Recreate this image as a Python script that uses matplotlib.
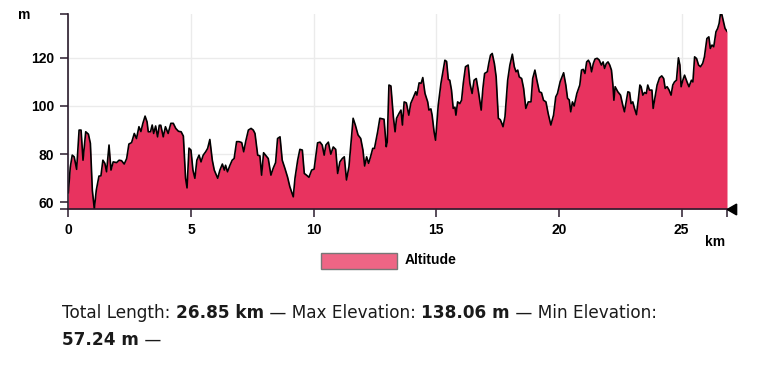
import matplotlib
matplotlib.use("Agg")
import matplotlib.pyplot as plt
from matplotlib.transforms import offset_copy

km = [0.00, 0.08, 0.16, 0.24, 0.34, 0.44, 0.52, 0.60, 0.71, 0.82, 0.90, 0.98, 1.06, 1.14, 1.25, 1.33,
      1.41, 1.49, 1.56, 1.66, 1.74, 1.83, 1.97, 2.07, 2.17, 2.28, 2.38, 2.47, 2.58, 2.69, 2.78, 2.88,
      2.96, 3.04, 3.13, 3.21, 3.26, 3.35, 3.42, 3.48, 3.56, 3.64, 3.71, 3.77, 3.87, 3.96, 4.07, 4.18,
      4.28, 4.38, 4.49, 4.60, 4.69, 4.78, 4.84, 4.92, 5.00, 5.08, 5.16, 5.24, 5.33, 5.41, 5.50, 5.60,
      5.68, 5.77, 5.87, 5.95, 6.09, 6.18, 6.28, 6.36, 6.41, 6.49, 6.59, 6.68, 6.76, 6.86, 6.96, 7.07,
      7.15, 7.23, 7.34, 7.45, 7.54, 7.61, 7.72, 7.81, 7.88, 7.96, 8.04, 8.15, 8.26, 8.35, 8.45, 8.53,
      8.63, 8.72, 8.83, 8.94, 9.03, 9.17, 9.24, 9.35, 9.44, 9.54, 9.62, 9.71, 9.81, 9.92, 10.02, 10.16,
      10.26, 10.35, 10.43, 10.50, 10.60, 10.70, 10.80, 10.90, 10.98, 11.07, 11.17, 11.25, 11.34, 11.44,
      11.52, 11.61, 11.70, 11.81, 11.92, 12.01, 12.08, 12.16, 12.24, 12.32, 12.41, 12.48, 12.61, 12.70,
      12.79, 12.87, 12.96, 13.00, 13.07, 13.15, 13.25, 13.32, 13.38, 13.48, 13.56, 13.62, 13.69, 13.78,
      13.88, 13.96, 14.05, 14.16, 14.21, 14.30, 14.38, 14.45, 14.54, 14.65, 14.70, 14.78, 14.83, 14.91,
      14.97, 15.08, 15.19, 15.28, 15.35, 15.42, 15.49, 15.55, 15.62, 15.69, 15.76, 15.80, 15.87, 15.96,
      16.03, 16.10, 16.19, 16.30, 16.37, 16.46, 16.54, 16.63, 16.72, 16.83, 16.90, 16.97, 17.08, 17.14,
      17.21, 17.28, 17.37, 17.44, 17.53, 17.61, 17.67, 17.72, 17.80, 17.91, 18.00, 18.10, 18.18, 18.25,
      18.32, 18.38, 18.48, 18.56, 18.65, 18.75, 18.86, 18.93, 19.02, 19.10, 19.20, 19.29, 19.37, 19.47,
      19.56, 19.67, 19.78, 19.87, 19.94, 20.05, 20.19, 20.28, 20.35, 20.42, 20.48, 20.55, 20.62, 20.73,
      20.85, 20.92, 20.99, 21.06, 21.13, 21.20, 21.27, 21.33, 21.40, 21.47, 21.56, 21.64, 21.73, 21.80,
      21.86, 21.93, 22.00, 22.07, 22.14, 22.20, 22.24, 22.29, 22.40, 22.51, 22.60, 22.67, 22.74, 22.81,
      22.88, 22.94, 23.01, 23.08, 23.16, 23.24, 23.30, 23.35, 23.42, 23.49, 23.56, 23.62, 23.69, 23.79,
      23.84, 23.92, 24.00, 24.10, 24.19, 24.27, 24.33, 24.41, 24.49, 24.57, 24.64, 24.71, 24.79, 24.87,
      24.93, 24.98, 25.05, 25.12, 25.22, 25.30, 25.40, 25.46, 25.53, 25.61, 25.69, 25.77, 25.86, 25.93,
      26.03, 26.11, 26.17, 26.24, 26.31, 26.40, 26.47, 26.53, 26.58, 26.64, 26.72, 26.77, 26.85]

altitude = [64.0, 74.5, 79.6, 78.9, 73.7, 90.0, 90.0, 77.5, 89.3, 88.3, 84.5, 65.0, 57.3, 65.0, 70.9, 71.0,
            77.5, 76.2, 72.7, 83.8, 73.4, 76.8, 76.5, 77.5, 77.3, 75.9, 78.2, 84.2, 84.8, 88.6, 86.5, 91.4,
            89.4, 92.8, 95.8, 93.4, 89.3, 89.3, 92.1, 88.6, 91.7, 87.2, 92.0, 92.0, 87.2, 91.4, 88.6, 92.8,
            92.8, 90.7, 89.5, 89.3, 87.5, 70.0, 66.0, 82.5, 81.7, 73.4, 70.0, 77.5, 79.6, 76.8, 79.6, 81.0,
            82.4, 86.1, 77.5, 73.4, 70.0, 73.4, 75.9, 73.4, 75.4, 72.7, 75.4, 77.5, 78.2, 85.2, 85.2, 84.8,
            81.0, 85.2, 90.0, 90.7, 90.0, 88.6, 79.6, 79.3, 71.3, 80.6, 79.6, 78.2, 71.3, 74.1, 76.5, 86.5,
            87.2, 77.5, 74.1, 70.4, 66.5, 62.3, 70.0, 77.5, 82.0, 81.7, 72.0, 71.3, 70.4, 73.4, 73.8, 84.7,
            85.0, 83.8, 79.6, 83.8, 85.0, 80.0, 83.0, 82.0, 72.0, 76.8, 78.2, 78.9, 69.3, 74.8,
            84.5, 94.9, 92.1, 88.0, 86.5, 81.7, 75.1, 78.9, 76.2, 78.9, 82.4, 82.4, 89.3, 94.9,
            94.7, 94.5, 83.1, 85.0, 108.7, 108.3, 95.5, 89.3, 94.9, 96.9, 98.3, 92.1, 101.7, 101.3,
            96.2, 101.1, 103.2, 105.9, 104.5, 109.6, 109.4, 111.8, 105.2, 101.7, 98.3, 98.8, 96.2, 89.3,
            85.8, 100.4, 109.4, 114.9, 119.0, 118.5, 111.0, 110.7, 106.6, 99.0, 99.5, 96.2, 101.7, 101.0,
            102.4, 109.4, 116.3, 117.0, 109.4, 105.2, 110.7, 111.4, 105.9, 98.3, 107.3, 113.5, 114.2, 117.7,
            121.1, 121.8, 117.5, 112.1, 94.9, 94.3, 92.8, 91.4, 95.5, 110.7, 117.0, 121.5, 116.3, 114.2,
            114.9, 112.1, 111.4, 107.3, 99.0, 101.7, 101.7, 111.4, 114.9, 110.7, 105.9, 105.5, 102.4, 101.7,
            96.9, 92.1, 96.2, 103.8, 105.2, 110.1, 113.8, 108.7, 103.2, 102.5, 97.6, 101.7, 100.0, 105.2,
            108.7, 114.9, 115.2, 113.5, 118.3, 119.0, 117.6, 114.2, 117.6, 119.5, 119.8, 119.1, 117.0, 118.3,
            115.6, 117.6, 118.3, 117.0, 114.9, 108.7, 102.4, 108.0, 105.9, 104.5, 100.4, 97.6, 101.7, 105.9,
            105.6, 101.0, 101.7, 99.0, 96.4, 103.2, 108.7, 108.0, 104.5, 105.6, 105.2, 108.7, 106.6, 106.6,
            99.0, 103.8, 108.7, 111.7, 112.5, 111.4, 107.3, 108.0, 106.6, 104.5, 108.7, 110.0, 110.7, 120.0,
            117.0, 108.0, 110.7, 112.8, 110.0, 108.0, 110.7, 110.0, 120.4, 119.7, 117.0, 116.3, 117.7, 120.4,
            128.0, 128.7, 123.9, 125.3, 124.6, 130.8, 132.2, 134.3, 138.06, 138.0, 134.3, 132.2, 131.0]

x_ticks = [0, 5, 10, 15, 20, 25]
y_ticks = [60, 80, 100, 120]
total_length = 26.85
max_elev = 138.06
min_elev = 57.24

FILL = "#E8335F"
LEG = "#EE6585"
AX = "#2a1b2c"

plt.rcParams['font.family'] = ['Liberation Sans', 'DejaVu Sans']

fig = plt.figure(figsize=(7.68, 3.65), dpi=100)
L, R = 68.3 / 768, 727 / 768
B, T = 1 - 209 / 365, 1 - 14.3 / 365
ax = fig.add_axes([L, B, R - L, T - B])
ax.set_xlim(0, total_length)
ax.set_ylim(min_elev, max_elev)

ax.fill_between(km, altitude, min_elev, color=FILL, lw=0, zorder=2)
ax.plot(km, altitude, color="black", lw=1.2, zorder=3)

for s in ("top", "right"):
    ax.spines[s].set_visible(False)
for s in ("left", "bottom"):
    ax.spines[s].set_color(AX)
    ax.spines[s].set_linewidth(1.2)
    ax.spines[s].set_zorder(4)

ax.set_xticks(x_ticks)
ax.set_yticks(y_ticks)
ax.set_xticks([total_length], minor=True)
ax.set_yticks([min_elev, max_elev], minor=True)
ax.tick_params(which="both", length=6, width=1.1, color=AX)
ax.tick_params(axis="both", which="major", labelsize=10, pad=4)
for lab in ax.get_xticklabels() + ax.get_yticklabels():
    lab.set_fontweight("bold")
    lab.set_color("black")
ax.grid(True, which="major", color="#ebebeb", lw=1, zorder=0)
ax.set_axisbelow(True)

# arrow at end of x axis
ax.plot([total_length], [min_elev], marker=(3, 0, 90), markersize=9, color="black",
        transform=offset_copy(ax.transData, fig=fig, x=6, y=0, units="dots"), clip_on=False, zorder=5)

# axis unit labels
fig.text(18 / 768, 1 - 15 / 365, "m", fontsize=10, fontweight="bold", ha="left", va="center")
fig.text(725 / 768, 1 - 242 / 365, "km", fontsize=10, fontweight="bold", ha="right", va="center")

# legend
fig.patches.append(plt.Rectangle((320.7 / 768, 1 - 269.3 / 365), 76.6 / 768, 16.6 / 365,
                                 transform=fig.transFigure, facecolor=LEG, edgecolor="#777777",
                                 lw=1.0, figure=fig))
fig.text(405 / 768, 1 - 260.5 / 365, "Altitude", fontsize=10, fontweight="bold", ha="left", va="center")

# summary text
fig.canvas.draw()
renderer = fig.canvas.get_renderer()
FAM = ['DejaVu Sans']
parts1 = [("Total Length: ", "normal"), ("26.85 km", "bold"), (" \u2014 Max Elevation: ", "normal"),
          ("138.06 m", "bold"), (" \u2014 Min Elevation:", "normal")]
parts2 = [("57.24 m", "bold"), (" \u2014", "normal")]


def line_width(parts, fs):
    w = 0
    for txt, wt in parts:
        t = fig.text(0, 0, txt, fontsize=fs, fontweight=wt, family=FAM)
        w += t.get_window_extent(renderer).width
        t.remove()
    return w


FS = 12.0
FS = FS * 593.0 / line_width(parts1, FS)


def draw_line(parts, x0, ypx):
    x = x0
    for txt, w in parts:
        t = fig.text(x / 768, 1 - ypx / 365, txt, fontsize=FS, fontweight=w, ha="left",
                     va="center", color="#1a1a1a", family=FAM)
        x += t.get_window_extent(renderer).width


draw_line(parts1, 62, 313)
draw_line(parts2, 62, 340)

fig.savefig("out.png", dpi=100)
